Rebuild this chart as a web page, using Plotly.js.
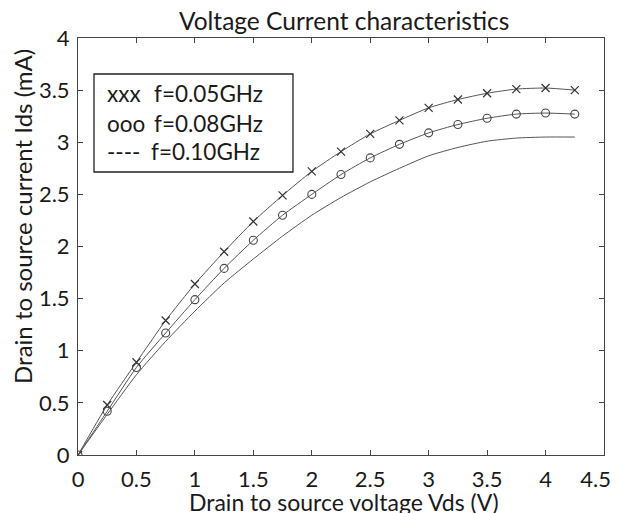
<!DOCTYPE html>
<html>
<head>
<meta charset="utf-8">
<script src="https://cdn.plot.ly/plotly-3.0.1.min.js"></script>
<style>
html,body{margin:0;padding:0;background:#fff;}
#chart{width:617px;height:513px;}
</style>
</head>
<body>
<div id="chart"></div>
<script>
// ---- data ----
const vds = [0, 0.25, 0.5, 0.75, 1, 1.25, 1.5, 1.75, 2, 2.25, 2.5, 2.75, 3, 3.25, 3.5, 3.75, 4, 4.25];
const ids005 = [0, 0.48, 0.89, 1.29, 1.64, 1.95, 2.24, 2.49, 2.72, 2.91, 3.08, 3.21, 3.33, 3.41, 3.47, 3.51, 3.52, 3.50];
const ids008 = [0, 0.42, 0.84, 1.17, 1.49, 1.79, 2.06, 2.30, 2.50, 2.69, 2.85, 2.98, 3.09, 3.17, 3.23, 3.27, 3.28, 3.27];
const ids010 = [0, 0.39, 0.77, 1.09, 1.38, 1.65, 1.88, 2.10, 2.30, 2.47, 2.62, 2.75, 2.87, 2.95, 3.01, 3.04, 3.05, 3.05];
const xTickVals = [0, 0.5, 1, 1.5, 2, 2.5, 3, 3.5, 4, 4.5];
const xTickText = ['0', '0.5', '1', '1.5', '2', '2.5', '3', '3.5', '4', '4.5'];
const yTickVals = [0, 0.5, 1, 1.5, 2, 2.5, 3, 3.5, 4];
const yTickText = ['0', '0.5', '1', '1.5', '2', '2.5', '3', '3.5', '4'];
const legendSymbols = ['xxx', 'ooo', '----'];
const legendLabels = ['f=0.05GHz', 'f=0.08GHz', 'f=0.10GHz'];
const titleText = 'Voltage Current characteristics';
const xTitle = 'Drain to source voltage Vds (V)';
const yTitle = 'Drain to source current Ids (mA)';

// ---- styling ----
const FONT = 'Lato, "Open Sans", sans-serif';
const TXT = '#1a1a1a';
const LINE = '#555555';

// last x label sits at the right page edge: pad it so it stays inside the page
const xTickTextShown = xTickText.map((t, i) => i === xTickText.length - 1 ? t + '\u00a0\u00a0\u00a0' : t);

const traces = [
  {x: vds, y: ids005, mode: 'lines+markers', name: legendLabels[0],
   line: {color: LINE, width: 1, shape: 'spline', smoothing: 0.6},
   marker: {symbol: 'x-thin-open', size: 8, color: '#333', line: {width: 1.2, color: '#333'}}},
  {x: vds, y: ids008, mode: 'lines+markers', name: legendLabels[1],
   line: {color: LINE, width: 1, shape: 'spline', smoothing: 0.6},
   marker: {symbol: 'circle-open', size: 8, color: '#444', line: {width: 1.1, color: '#444'}}},
  {x: vds, y: ids010, mode: 'lines', name: legendLabels[2],
   line: {color: LINE, width: 1, shape: 'spline', smoothing: 0.6}}
];

const axisCommon = {
  showline: true, linecolor: '#444', linewidth: 1, mirror: 'allticks',
  ticks: 'inside', ticklen: 5, tickwidth: 1, tickcolor: '#444',
  showgrid: false, zeroline: false, ticklabeloverflow: 'allow',
  tickfont: {family: FONT, size: 22, color: TXT}
};

// legend box layout positions (paper coords)
const rowsY = [0.866, 0.796, 0.729];
const annotations = [];
legendSymbols.forEach((s, i) => {
  annotations.push({xref: 'paper', yref: 'paper', x: 0.0513, y: rowsY[i], xanchor: 'left', yanchor: 'middle',
    text: s, showarrow: false, font: {family: FONT, size: 22.5, color: TXT}});
  annotations.push({xref: 'paper', yref: 'paper', x: (i === 2 ? 0.135 : 0.1407), y: rowsY[i], xanchor: 'left', yanchor: 'middle',
    text: legendLabels[i], showarrow: false, font: {family: FONT, size: 22.5, color: TXT}});
});
annotations.push({xref: 'paper', yref: 'paper', x: 0.506, y: 0, yshift: -47, xanchor: 'center', yanchor: 'middle',
  text: xTitle, showarrow: false, font: {family: FONT, size: 23, color: TXT}});
annotations.push({xref: 'paper', yref: 'paper', x: 0, xshift: -55, y: 0.571, xanchor: 'center', yanchor: 'middle',
  textangle: -90, text: yTitle, showarrow: false, font: {family: FONT, size: 24, color: TXT}});

const layout = {
  width: 617, height: 513,
  margin: {l: 78, r: 13, t: 38, b: 58, pad: 0},
  paper_bgcolor: '#fff', plot_bgcolor: '#fff',
  showlegend: false,
  title: {text: titleText, x: 0.506, xref: 'paper', xanchor: 'center', y: 0.959, yref: 'container', yanchor: 'middle',
    font: {family: FONT, size: 24.5, color: TXT}},
  xaxis: Object.assign({}, axisCommon, {range: [0, 4.5], tickvals: xTickVals, ticktext: xTickTextShown, ticklabelstandoff: 5}),
  yaxis: Object.assign({}, axisCommon, {range: [0, 4], tickvals: yTickVals, ticktext: yTickText, ticklabelstandoff: 3}),
  shapes: [{type: 'rect', xref: 'paper', yref: 'paper', x0: 0.0304, x1: 0.4087, y0: 0.6787, y1: 0.9137,
    line: {color: '#222', width: 1.3}, fillcolor: 'rgba(255,255,255,0)'}],
  annotations: annotations
};

Plotly.newPlot('chart', traces, layout, {displayModeBar: false, staticPlot: true});
</script>
</body>
</html>
